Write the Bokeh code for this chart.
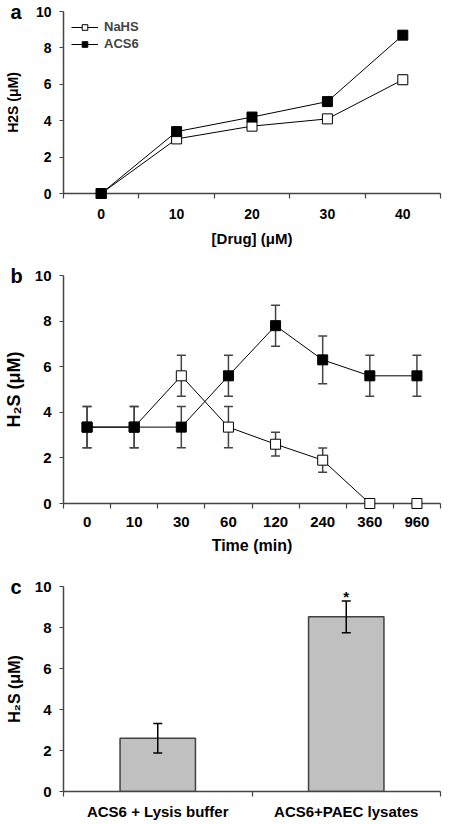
from bokeh.plotting import figure
from bokeh.models import (Range1d, FixedTicker, Whisker, ColumnDataSource, TeeHead)
from bokeh.layouts import column
from bokeh.embed import file_html
from bokeh.resources import INLINE
from bokeh.core.properties import value

FONT = "Liberation Sans"
AXIS_COLOR = "#444444"

# ---------------- data ----------------
drug_labels = ["0", "10", "20", "30", "40"]
nahs_a = [0.0, 3.0, 3.7, 4.1, 6.25]
nahs_a_err = [0.0, 0.0, 0.0, 0.0, 0.25]
acs6_a = [0.0, 3.4, 4.2, 5.05, 8.7]

time_labels = ["0", "10", "30", "60", "120", "240", "360", "960"]
nahs_b = [3.35, 3.35, 5.6, 3.35, 2.6, 1.9, 0.0, 0.0]
nahs_b_err = [0.9, 0.9, 0.9, 0.9, 0.52, 0.53, 0.0, 0.0]
acs6_b = [3.35, 3.35, 3.35, 5.6, 7.8, 6.3, 5.6, 5.6]
acs6_b_err = [0.9, 0.9, 0.9, 0.9, 0.9, 1.05, 0.9, 0.9]

groups_c = ["ACS6 + Lysis buffer", "ACS6+PAEC lysates"]
h2s_c = [2.6, 8.52]
h2s_c_err = [0.72, 0.77]
sig_c = ["", "*"]

y_ticks = [0, 2, 4, 6, 8, 10]
LEFT = 54


def make_panel(labels, width, height, right, top, bottom, xlabel, ylabel,
               tick_fs, xlab_fs, ylab_fs, tick_standoff, xlab_standoff, ylab_standoff, letter):
    n = len(labels)
    centers = [i + 0.5 for i in range(n)]
    bounds = list(range(n + 1))
    p = figure(width=width, height=height, x_range=Range1d(0, n), y_range=Range1d(0, 10),
               output_backend="svg", toolbar_location=None, tools="",
               min_border_left=LEFT, min_border_right=right, min_border_top=top,
               min_border_bottom=bottom)
    p.grid.visible = False
    p.outline_line_color = None
    p.background_fill_color = "white"
    p.border_fill_color = "white"

    xa = p.xaxis[0]
    xa.ticker = FixedTicker(ticks=centers, minor_ticks=bounds)
    xa.major_label_overrides = {c: lab for c, lab in zip(centers, labels)}
    xa.major_tick_out = 0
    xa.major_tick_in = 0
    xa.minor_tick_out = 5
    xa.minor_tick_in = 0
    xa.minor_tick_line_color = AXIS_COLOR
    xa.minor_tick_line_width = 1.2
    xa.axis_line_color = AXIS_COLOR
    xa.axis_line_width = 1.5
    xa.major_label_text_font = FONT
    xa.major_label_text_font_style = "bold"
    xa.major_label_text_font_size = f"{tick_fs}px"
    xa.major_label_text_color = "black"
    xa.major_label_standoff = tick_standoff
    if xlabel:
        xa.axis_label = xlabel
        xa.axis_label_text_font = FONT
        xa.axis_label_text_font_style = "bold"
        xa.axis_label_text_font_size = f"{xlab_fs}px"
        xa.axis_label_text_color = "black"
        xa.axis_label_standoff = xlab_standoff

    ya = p.yaxis[0]
    ya.ticker = FixedTicker(ticks=y_ticks)
    ya.bounds = (0, 10)
    ya.major_tick_out = 4
    ya.major_tick_in = 0
    ya.minor_tick_line_color = None
    ya.major_tick_line_color = AXIS_COLOR
    ya.major_tick_line_width = 1.2
    ya.axis_line_color = AXIS_COLOR
    ya.axis_line_width = 1.5
    ya.major_label_text_font = FONT
    ya.major_label_text_font_style = "bold"
    ya.major_label_text_font_size = f"{tick_fs}px"
    ya.major_label_text_color = "black"
    ya.major_label_standoff = 8
    ya.axis_label = ylabel
    ya.axis_label_text_font = FONT
    ya.axis_label_text_font_style = "bold"
    ya.axis_label_text_font_size = f"{ylab_fs}px"
    ya.axis_label_text_color = "black"
    ya.axis_label_standoff = ylab_standoff

    # panel letter: anchored at the frame's top-left, shifted into the left border
    lt = p.text(x=[0], y=[10], text=[letter], x_offset=-(LEFT - 1),
                text_font=value(FONT), text_font_style="bold", text_font_size="20px",
                text_baseline="middle", text_align="left", text_color="black")
    lt.level = "overlay"
    return p, centers


# ---------------- panel a ----------------
pa, ca = make_panel(drug_labels, 452, 249, 6, 11, 55, "[Drug] (\u03bcM)", "H2S (\u03bcM)",
                    14, 15, 14, 10, 8, 12, "a")
src_a = ColumnDataSource(dict(x=ca, nahs=nahs_a, acs6=acs6_a,
                              up=[v + e for v, e in zip(nahs_a, nahs_a_err)],
                              lo=[v - e for v, e in zip(nahs_a, nahs_a_err)]))
wa = Whisker(base="x", upper="up", lower="lo", source=src_a, level="underlay",
             line_color=AXIS_COLOR, line_width=1.2)
wa.upper_head = TeeHead(size=8, line_color=AXIS_COLOR, line_width=1.2)
wa.lower_head = TeeHead(size=8, line_color=AXIS_COLOR, line_width=1.2)
pa.add_layout(wa)
pa.line("x", "nahs", source=src_a, line_color="black", line_width=1, legend_label="NaHS")
sa1 = pa.scatter("x", "nahs", source=src_a, marker="square", size=10, fill_color="white",
                 line_color="black", line_width=1, legend_label="NaHS")
pa.line("x", "acs6", source=src_a, line_color="black", line_width=1, legend_label="ACS6")
sa2 = pa.scatter("x", "acs6", source=src_a, marker="square", size=10, fill_color="black",
                 line_color="black", line_width=1, legend_label="ACS6")
sa1.level = "overlay"
sa2.level = "overlay"
lg = pa.legend[0]
lg.location = "top_left"
lg.border_line_color = None
lg.background_fill_alpha = 0
lg.label_text_font = FONT
lg.label_text_font_style = "bold"
lg.label_text_font_size = "13px"
lg.glyph_width = 27
lg.glyph_height = 14
lg.label_height = 14
lg.spacing = 2
lg.margin = 8
lg.padding = 4
lg.label_standoff = 6

# ---------------- panel b ----------------
pb, cb = make_panel(time_labels, 452, 307, 9, 26, 52, "Time (min)", "H\u2082S (\u03bcM)",
                    15, 16, 18, 8, 7, 8, "b")
src_b = ColumnDataSource(dict(x=cb, nahs=nahs_b, acs6=acs6_b,
                              nup=[v + e for v, e in zip(nahs_b, nahs_b_err)],
                              nlo=[v - e for v, e in zip(nahs_b, nahs_b_err)],
                              aup=[v + e for v, e in zip(acs6_b, acs6_b_err)],
                              alo=[v - e for v, e in zip(acs6_b, acs6_b_err)]))
for up, lo in (("nup", "nlo"), ("aup", "alo")):
    w = Whisker(base="x", upper=up, lower=lo, source=src_b, level="underlay",
                line_color=AXIS_COLOR, line_width=1.5)
    w.upper_head = TeeHead(size=9, line_color=AXIS_COLOR, line_width=1.5)
    w.lower_head = TeeHead(size=9, line_color=AXIS_COLOR, line_width=1.5)
    pb.add_layout(w)
pb.line("x", "nahs", source=src_b, line_color="black", line_width=1)
pb.line("x", "acs6", source=src_b, line_color="black", line_width=1)
sb1 = pb.scatter("x", "nahs", source=src_b, marker="square", size=10, fill_color="white",
                 line_color="black", line_width=1)
sb2 = pb.scatter("x", "acs6", source=src_b, marker="square", size=10, fill_color="black",
                 line_color="black", line_width=1)
sb1.level = "overlay"
sb2.level = "overlay"

# ---------------- panel c ----------------
pc, cc = make_panel(groups_c, 452, 266, 12, 30, 30, "", "H\u2082S (\u03bcM)",
                    15, 15, 16, 6, 4, 9, "c")
src_c = ColumnDataSource(dict(x=cc, h=h2s_c, sig=sig_c,
                              up=[v + e for v, e in zip(h2s_c, h2s_c_err)],
                              lo=[v - e for v, e in zip(h2s_c, h2s_c_err)]))
pc.vbar(x="x", top="h", bottom=0, width=0.4, source=src_c, fill_color="#c0c0c0",
        line_color="#404040", line_width=1.5)
wc = Whisker(base="x", upper="up", lower="lo", source=src_c, level="annotation",
             line_color="black", line_width=1.5)
wc.upper_head = TeeHead(size=9, line_color="black", line_width=1.5)
wc.lower_head = TeeHead(size=9, line_color="black", line_width=1.5)
pc.add_layout(wc)
pc.text(x="x", y="up", text="sig", source=src_c, text_font=value(FONT), text_font_style="bold",
        text_font_size="15px", text_align="center", text_baseline="middle", y_offset=-5,
        text_color="black")

layout = column(pa, pb, pc, spacing=0)
open("out.html", "w").write(file_html(layout, INLINE))
